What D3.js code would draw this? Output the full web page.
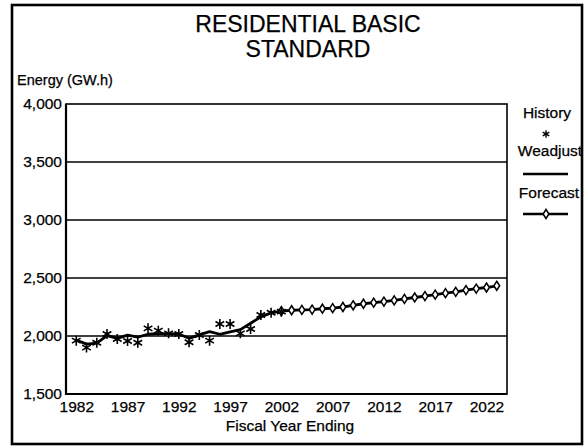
<!DOCTYPE html>
<html><head><meta charset="utf-8">
<script src="https://cdn.jsdelivr.net/npm/d3@7"></script>
<style>
body{margin:0;background:#fff}
svg{display:block}
text{font-family:"Liberation Sans",Arial,Helvetica,sans-serif;fill:#000;stroke:#000;stroke-width:0.25px}
</style>
</head><body>
<svg id="c" width="586" height="447"></svg>
<script>
const historyYears = [1982,1983,1984,1985,1986,1987,1988,1989,1990,1991,1992,1993,1994,1995,1996,1997,1998,1999,2000,2001,2002];
const historyValues = [1960,1900,1942,2017,1974,1957,1942,2066,2046,2023,2017,1946,2009,1960,2104,2104,2023,2060,2181,2201,2210];
const weadjustValues = [1965,1930,1938,2003,1980,2008,1990,2015,2020,2020,2018,1980,2010,2038,2015,2035,2055,2110,2165,2200,2215];
const forecastYears = [2002,2003,2004,2005,2006,2007,2008,2009,2010,2011,2012,2013,2014,2015,2016,2017,2018,2019,2020,2021,2022,2023];
const forecastValues = [2215,2222,2225,2228,2235,2240,2250,2265,2278,2287,2297,2307,2320,2332,2344,2356,2369,2381,2396,2409,2418,2433];
const xTickYears = [1982,1987,1992,1997,2002,2007,2012,2017,2022];
const yTickValues = [1500,2000,2500,3000,3500,4000];
const titleLines = ["RESIDENTIAL BASIC","STANDARD"];
const legendLabels = ["History","Weadjust","Forecast"];

const svg = d3.select("#c");
const L = 66, R = 507, T = 104, B = 394;
const x = d3.scaleLinear().domain([1981, 2024]).range([L, R]);
const y = d3.scaleLinear().domain([1500, 4000]).range([B, T]);

// outer frame
svg.append("rect").attr("x",12).attr("y",5).attr("width",570).attr("height",439)
  .attr("fill","none").attr("stroke","#000").attr("stroke-width",2.6);

// title
svg.append("g").selectAll("text").data(titleLines).join("text")
  .attr("x",308).attr("y",(d,i)=>32+i*25).attr("text-anchor","middle")
  .attr("font-size",23).text(d=>d);

svg.append("text").attr("x",17).attr("y",85).attr("font-size",14.5).text("Energy (GW.h)");

// gridlines
svg.append("g").selectAll("line").data(yTickValues.filter(v=>v>1500 && v<4000)).join("line")
  .attr("x1",L).attr("x2",R).attr("y1",d=>y(d)).attr("y2",d=>y(d))
  .attr("stroke","#000").attr("stroke-width",1.3);

// axes via d3
const yAxis = d3.axisLeft(y).tickValues(yTickValues).tickSize(0).tickPadding(4)
  .tickFormat(d3.format(","));
const gy = svg.append("g").attr("transform",`translate(${L},0)`).call(yAxis);
gy.select(".domain").remove();
gy.selectAll("text").attr("font-size",15.5).attr("font-family",null);

const xAxis = d3.axisBottom(x).tickValues(xTickYears).tickSize(0).tickPadding(7)
  .tickFormat(d3.format("d"));
const gx = svg.append("g").attr("transform",`translate(0,${B})`).call(xAxis);
gx.select(".domain").remove();
gx.selectAll("text").attr("font-size",15.5).attr("font-family",null);

// plot border
svg.append("rect").attr("x",L).attr("y",T).attr("width",R-L).attr("height",B-T)
  .attr("fill","none").attr("stroke","#000").attr("stroke-width",1.6);
svg.append("line").attr("x1",L).attr("x2",L).attr("y1",T).attr("y2",B+1)
  .attr("stroke","#000").attr("stroke-width",2.2);
svg.append("line").attr("x1",L).attr("x2",R).attr("y1",B).attr("y2",B)
  .attr("stroke","#000").attr("stroke-width",2.2);

svg.append("text").attr("x",290).attr("y",431).attr("text-anchor","middle")
  .attr("font-size",15.5).text("Fiscal Year Ending");

// symbols
function asterisk(r){
  const t=r/2, u=t*Math.sqrt(3);
  return `M0,${-r}L0,${r}M${-u},${-t}L${u},${t}M${-u},${t}L${u},${-t}`;
}
function diamond(w,h){ return `M0,${-h}L${w},0L0,${h}L${-w},0Z`; }

const line = d3.line().x(d=>x(d[0])).y(d=>y(d[1]));

// weather-adjusted line
svg.append("path").datum(historyYears.map((yr,i)=>[yr,weadjustValues[i]]))
  .attr("d",line).attr("fill","none").attr("stroke","#000").attr("stroke-width",2.8)
  .attr("stroke-linejoin","round");

// forecast line
svg.append("path").datum(forecastYears.map((yr,i)=>[yr,forecastValues[i]]))
  .attr("d",line).attr("fill","none").attr("stroke","#000").attr("stroke-width",2.8)
  .attr("stroke-linejoin","round");
svg.append("g").selectAll("path").data(forecastYears.map((yr,i)=>[yr,forecastValues[i]])).join("path")
  .attr("transform",d=>`translate(${x(d[0])},${y(d[1])})`)
  .attr("d",diamond(2.9,4.5)).attr("fill","#fff").attr("stroke","#000").attr("stroke-width",1.5);

// history asterisks
svg.append("g").selectAll("path").data(historyYears.map((yr,i)=>[yr,historyValues[i]])).join("path")
  .attr("transform",d=>`translate(${x(d[0])},${y(d[1])})`)
  .attr("d",asterisk(5)).attr("fill","none").attr("stroke","#000").attr("stroke-width",1.6);

// legend
const lg = svg.append("g");
lg.append("text").attr("x",547).attr("y",118).attr("text-anchor","middle").attr("font-size",15.5).text(legendLabels[0]);
lg.append("path").attr("transform","translate(546,134)").attr("d",asterisk(3.8))
  .attr("fill","none").attr("stroke","#000").attr("stroke-width",1.4);
lg.append("text").attr("x",550).attr("y",156).attr("text-anchor","middle").attr("font-size",15.5).text(legendLabels[1]);
lg.append("line").attr("x1",523).attr("x2",568).attr("y1",174).attr("y2",174).attr("stroke","#000").attr("stroke-width",2.6);
lg.append("text").attr("x",549).attr("y",198).attr("text-anchor","middle").attr("font-size",15.5).text(legendLabels[2]);
lg.append("line").attr("x1",523).attr("x2",568).attr("y1",214).attr("y2",214).attr("stroke","#000").attr("stroke-width",2.6);
lg.append("path").attr("transform","translate(546,214)").attr("d",diamond(2.9,4.5))
  .attr("fill","#fff").attr("stroke","#000").attr("stroke-width",1.5);
</script>
</body></html>
